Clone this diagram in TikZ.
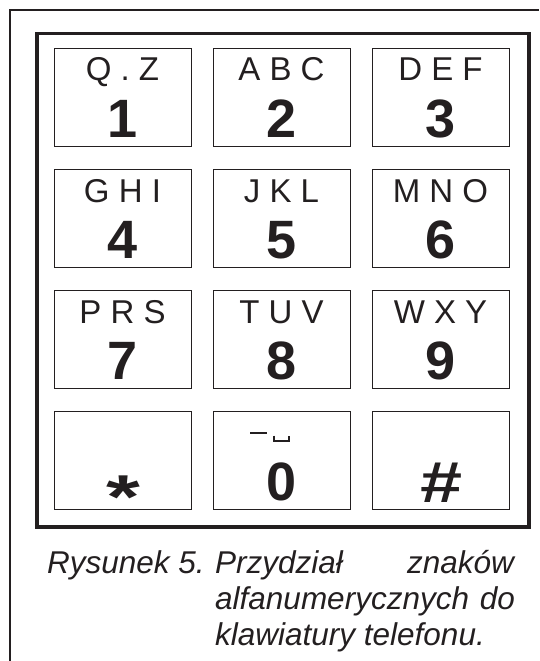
\documentclass[tikz,border=0pt]{standalone}
\usepackage{fontspec}
\setmainfont{Liberation Sans}
\definecolor{ink}{RGB}{35,31,32}
\tikzset{
  keybox/.style={draw=ink, line width=1.4pt, minimum width=137pt, minimum height=98pt, anchor=north west, inner sep=0pt},
  keyletters/.style={anchor=base, inner sep=0pt, text=ink, font=\fontsize{33}{36}\selectfont},
  keydigit/.style={anchor=base, inner sep=0pt, text=ink, font=\fontsize{54}{56}\selectfont\bfseries},
  captxt/.style={inner sep=0pt, text=ink, font=\fontsize{31.5}{34}\selectfont\itshape},
  frame/.style={draw=ink, line width=3.5pt},
  thinframe/.style={draw=ink, line width=1.3pt},
  marks/.style={draw=ink, line width=2.6pt}
}
\begin{document}
\begin{tikzpicture}[x=1pt,y=-1pt]
\useasboundingbox (0,0) rectangle (539,661);
% outer thin frame (cut off at right and bottom)
\coordinate (o1) at (10,661);
\coordinate (o2) at (10,10);
\coordinate (o3) at (539,10);
\draw[thinframe] (o1) -- (o2) -- (o3);
% thick keypad frame
\node[frame, anchor=north west, minimum width=492pt, minimum height=493pt, inner sep=0pt] (pad) at (35,32) {};
% keys
\foreach \n/\x/\y/\l/\d in {1/54/48/Q . Z/1, 2/213/48/A B C/2, 3/372/48/D E F/3,
  4/54/169/G H I/4, 5/213/169/J K L/5, 6/372/169/M N O/6,
  7/54/290/P R S/7, 8/213/290/T U V/8, 9/372/290/W X Y/9}{
  \node[keybox] (k\n) at (\x,\y) {};
  \node[keyletters] (l\n) at (\x+68.5,\y+33) {\l};
  \node[keydigit] (d\n) at (\x+68.5,\y+89) {\d};
}
\node[keybox] (kstar) at (54,411) {};
\node[keybox] (k0) at (213,411) {};
\node[keybox] (khash) at (372,411) {};
\node[anchor=north, inner sep=0pt, text=ink, font=\fontsize{62}{62}\selectfont\bfseries] (dstar) at (123,476) {\scalebox{1.4}[1]{*}};
\node[keydigit] (d0) at (281.5,500) {0};
\node[anchor=base, inner sep=0pt, text=ink, font=\fontsize{58}{60}\selectfont\bfseries\itshape] (dhash) at (440,502) {\scalebox{1.3}[1]{\#}};
% dash and space marks above 0
\coordinate (m1) at (250,433);
\coordinate (m2) at (267,433);
\draw[marks] (m1) -- (m2);
\coordinate (s1) at (274,435.5);
\coordinate (s2) at (274,441);
\coordinate (s3) at (289,441);
\coordinate (s4) at (289,435.5);
\draw[marks, line join=miter] (s1) -- (s2) -- (s3) -- (s4);
% caption
\node[captxt, anchor=base west] (c1a) at (47,573) {Rysunek 5.};
\node[captxt, anchor=base west] (c1b) at (215,573) {Przydział};
\node[captxt, anchor=base east] (c1c) at (514,573) {znaków};
\node[captxt, anchor=base west] (c2a) at (215,609) {alfanumerycznych};
\node[captxt, anchor=base east] (c2b) at (515,609) {do};
\node[captxt, anchor=base west] (c3) at (215,645) {klawiatury telefonu.};
\end{tikzpicture}
\end{document}
